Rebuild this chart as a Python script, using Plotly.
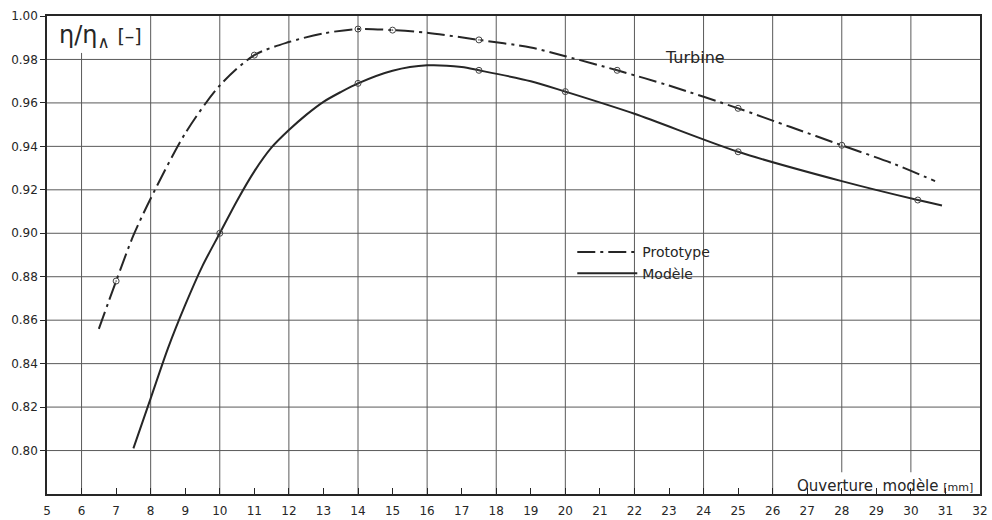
import plotly.graph_objects as go

# ---- data ----
proto_x = [6.5, 7.0, 7.5, 8.0, 9.0, 10.0, 11.0, 12.0, 13.0, 14.0, 15.0, 16.0, 17.5, 19.0, 20.0, 21.5, 23.0, 25.0, 26.5, 28.0, 29.5, 30.7]
proto_y = [0.856, 0.878, 0.899, 0.916, 0.946, 0.968, 0.982, 0.988, 0.992, 0.994, 0.9935, 0.9923, 0.989, 0.9855, 0.9815, 0.975, 0.968, 0.9575, 0.949, 0.9405, 0.932, 0.924]
proto_pts_x = [7.0, 11.0, 14.0, 15.0, 17.5, 21.5, 25.0, 28.0]
proto_pts_y = [0.878, 0.982, 0.994, 0.9935, 0.989, 0.975, 0.9575, 0.9405]

model_x = [7.5, 8.0, 8.5, 9.0, 9.5, 10.0, 10.5, 11.0, 11.5, 12.0, 12.5, 13.0, 13.5, 14.0, 15.0, 16.0, 17.0, 17.5, 19.0, 20.0, 22.0, 25.0, 28.0, 30.2, 30.9]
model_y = [0.801, 0.824, 0.847, 0.867, 0.885, 0.900, 0.915, 0.9285, 0.9395, 0.9475, 0.9545, 0.9605, 0.965, 0.969, 0.9748, 0.9773, 0.9765, 0.975, 0.970, 0.9652, 0.955, 0.9375, 0.924, 0.9153, 0.9128]
model_pts_x = [10.0, 14.0, 17.5, 20.0, 25.0, 30.2]
model_pts_y = [0.900, 0.969, 0.975, 0.9652, 0.9375, 0.9153]

x_ticks = list(range(5, 33))
y_ticks = [0.80, 0.82, 0.84, 0.86, 0.88, 0.90, 0.92, 0.94, 0.96, 0.98, 1.00]
y_tick_text = ["0.80", "0.82", "0.84", "0.86", "0.88", "0.90", "0.92", "0.94", "0.96", "0.98", "1.00"]
v_grid = [6, 8, 10, 12, 14, 16, 18, 20, 22, 24, 26, 28, 30]
h_grid = [0.80, 0.82, 0.84, 0.86, 0.88, 0.90, 0.92, 0.94, 0.96, 0.98]

INK = "#262626"
GRID = "#5a5a5a"
FONT = "DejaVu Sans"

fig = go.Figure()

fig.add_trace(go.Scatter(
    x=proto_x, y=proto_y, mode="lines", name="Prototype",
    line=dict(color=INK, width=2, dash="18px,5px,3px,5px", shape="spline", smoothing=0.8),
))
fig.add_trace(go.Scatter(
    x=model_x, y=model_y, mode="lines", name="Modèle",
    line=dict(color=INK, width=2, shape="spline", smoothing=0.8),
))
fig.add_trace(go.Scatter(
    x=proto_pts_x, y=proto_pts_y, mode="markers", showlegend=False,
    marker=dict(symbol="circle-open-dot", size=6, color="#444", line=dict(width=1, color="#444")),
))
fig.add_trace(go.Scatter(
    x=model_pts_x, y=model_pts_y, mode="markers", showlegend=False,
    marker=dict(symbol="circle-open-dot", size=6, color="#444", line=dict(width=1, color="#444")),
))

shapes = []
for gx in v_grid:
    y0 = 0.79 if gx >= 28 else 0.78
    y1 = 0.983 if gx == 6 else 1.0
    shapes.append(dict(type="line", xref="x", yref="y", x0=gx, x1=gx, y0=y0, y1=y1,
                       line=dict(color=GRID, width=1), layer="below"))
for gy in h_grid:
    shapes.append(dict(type="line", xref="x", yref="y", x0=5, x1=32, y0=gy, y1=gy,
                       line=dict(color=GRID, width=1), layer="below"))

annotations = [
    dict(text="η/η<sub>∧</sub> <span style='font-size:19px'>[–]</span>", xref="x", yref="y",
         x=5.3, y=0.9905, xanchor="left", yanchor="middle", showarrow=False,
         font=dict(family=FONT, size=24, color=INK)),
    dict(text="Turbine", xref="x", yref="y", x=23.74, y=0.981, xanchor="center", yanchor="middle",
         showarrow=False, font=dict(family=FONT, size=16, color=INK)),
    dict(text="Ouverture  modèle <span style='font-size:11px'>[mm]</span>", xref="x", yref="y",
         x=31.85, y=0.7836, xanchor="right", yanchor="middle", showarrow=False,
         font=dict(family=FONT, size=15, color=INK)),
]

fig.update_layout(
    width=992, height=520,
    margin=dict(l=47, r=12, t=16, b=26),
    paper_bgcolor="white", plot_bgcolor="white",
    font=dict(family=FONT, color=INK),
    shapes=shapes, annotations=annotations,
    legend=dict(x=0.563, y=0.539, xanchor="left", yanchor="top", bgcolor="rgba(0,0,0,0)",
                font=dict(family=FONT, size=14, color=INK), itemwidth=60, tracegroupgap=0,
                traceorder="normal"),
    xaxis=dict(range=[5, 32], tickvals=x_ticks, ticktext=[str(v) for v in x_ticks],
               ticks="inside", ticklen=6, tickcolor=INK, tickwidth=1,
               showline=True, linecolor=INK, linewidth=1.5, mirror=True,
               showgrid=False, zeroline=False, ticklabelstandoff=5, automargin=False,
               tickfont=dict(family=FONT, size=12, color=INK)),
    yaxis=dict(range=[0.78, 1.0], tickvals=y_ticks, ticktext=y_tick_text,
               ticks="outside", ticklen=5, tickcolor=INK, tickwidth=1,
               showline=True, linecolor=INK, linewidth=1.5, mirror=True,
               showgrid=False, zeroline=False, automargin=False,
               tickfont=dict(family=FONT, size=12, color=INK)),
)

fig.write_html("out.html")
